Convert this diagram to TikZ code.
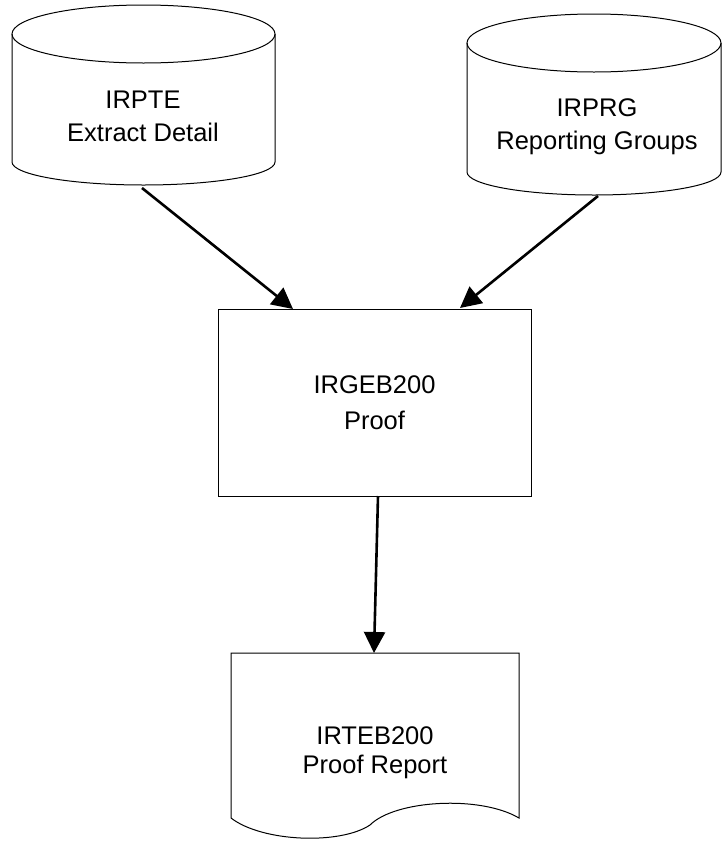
\documentclass[tikz,border=0pt]{standalone}
\usepackage{fontspec}
\setmainfont{Liberation Sans}
\usetikzlibrary{arrows.meta}
\begin{document}
\begin{tikzpicture}[x=1pt,y=-1pt,
  outline/.style={draw=black, line width=1pt},
  lbl/.style={align=center, inner sep=0pt, text depth=0pt},
  fnt/.style={font=\fontsize{25.5}{#1}\selectfont},
  flow/.style={line width=2.6pt, -{Triangle[length=21pt,width=21pt]}}]
\useasboundingbox (0,0) rectangle (722,841);
% cylinder IRPTE
\draw[outline] (12,34) -- (12,162) arc[start angle=180,end angle=0,x radius=131.5,y radius=23] -- (275,34);
\draw[outline] (143.5,34) ellipse [x radius=131.5, y radius=29];
\node[lbl,fnt=33] (irpte) at (143,116) {IRPTE\\Extract Detail};
% cylinder IRPRG
\draw[outline] (467,43) -- (467,172) arc[start angle=180,end angle=0,x radius=127,y radius=23] -- (721,43);
\draw[outline] (594,43) ellipse [x radius=127, y radius=29];
\node[lbl,fnt=33] (irprg) at (597,124) {IRPRG\\Reporting Groups};
% process box
\node[outline,lbl,fnt=36,minimum width=313pt,minimum height=187pt] (proof) at (374.5,402.5) {IRGEB200\\Proof};
% document
\draw[outline] (231,818) -- (231,653) -- (519,653) -- (519,818)
  .. controls (480,795) and (395,800) .. (370,825)
  .. controls (340,845) and (262,842) .. (231,818);
\node[lbl,fnt=29] (report) at (375,750) {IRTEB200\\Proof Report};
% connector end points
\coordinate (irpteOut) at (142,188);
\coordinate (proofInA) at (293,309);
\coordinate (irprgOut) at (598,196);
\coordinate (proofInB) at (460,308);
\coordinate (proofOut) at (378,496);
\coordinate (reportIn) at (374,653);
\draw[flow] (irpteOut) -- (proofInA);
\draw[flow] (irprgOut) -- (proofInB);
\draw[flow] (proofOut) -- (reportIn);
\end{tikzpicture}
\end{document}
